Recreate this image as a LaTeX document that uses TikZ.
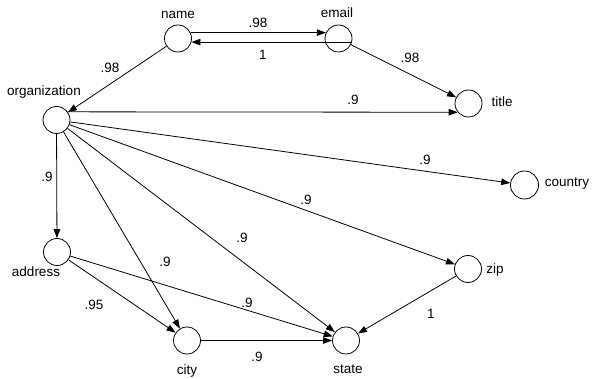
\documentclass[tikz,border=0pt]{standalone}
\usepackage{fontspec}
\setmainfont{Liberation Sans}
\usetikzlibrary{arrows.meta}
\begin{document}
\begin{tikzpicture}[x=1pt,y=-1pt,
  vert/.style={circle,draw,line width=0.8pt,minimum size=27pt,inner sep=0pt},
  txt/.style={font=\fontsize{13.5}{15}\selectfont,inner sep=0pt},
  conn/.style={line width=0.8pt,-{Triangle[length=9pt,width=6.5pt]}}]
\useasboundingbox (0,0) rectangle (592,379);
% vertices
\node[vert] (name) at (178,38.5) {};
\node[vert] (email) at (338.5,38.5) {};
\node[vert] (title) at (468.5,103.5) {};
\node[vert] (org) at (56.5,120) {};
\node[vert,minimum width=28pt,minimum height=26pt] (country) at (524.5,185) {};
\node[vert] (address) at (57,252) {};
\node[vert] (zip) at (468,269) {};
\node[vert] (city) at (187,340.5) {};
\node[vert] (state) at (346,340.5) {};
% vertex labels
\node[txt] (tname) at (178,15) {name};
\node[txt] (temail) at (337,13) {email};
\node[txt] (ttitle) at (502,102) {title};
\node[txt] (tcountry) at (567,184) {country};
\node[txt] (torg) at (44,92) {organization};
\node[txt] (taddress) at (36,272) {address};
\node[txt] (tzip) at (495,270) {zip};
\node[txt] (tcity) at (187,371) {city};
\node[txt] (tstate) at (348,369) {state};
% connectors
\draw[conn] (name.25) -- (email.155);
\draw[conn] (email.-15) -- (name.-15 |- email.-15);
\draw[conn] (name) -- (org);
\draw[conn] (email) -- (title);
\draw[conn] (org.36) -- (title.219);
\draw[conn] (org) -- (country);
\draw[conn] (org) -- (address);
\draw[conn] (org) -- (city);
\draw[conn] (org) -- (state);
\draw[conn] (org) -- (zip);
\draw[conn] (address) -- (city);
\draw[conn] (address) -- (state);
\draw[conn] (city) -- (state);
\draw[conn] (zip) -- (state);
% edge labels
\node[txt] (l1) at (258,23) {.98};
\node[txt] (l2) at (263,55) {1};
\node[txt] (l3) at (110,68) {.98};
\node[txt] (l4) at (410,58) {.98};
\node[txt] (l5) at (353,100) {.9};
\node[txt] (l6) at (425,160) {.9};
\node[txt] (l7) at (306,200) {.9};
\node[txt] (l8) at (47,177) {.9};
\node[txt] (l9) at (242,238) {.9};
\node[txt] (l10) at (165,262) {.9};
\node[txt] (l11) at (94,305) {.95};
\node[txt] (l12) at (247,303) {.9};
\node[txt] (l13) at (257,357) {.9};
\node[txt] (l14) at (431,314) {1};
\end{tikzpicture}
\end{document}
